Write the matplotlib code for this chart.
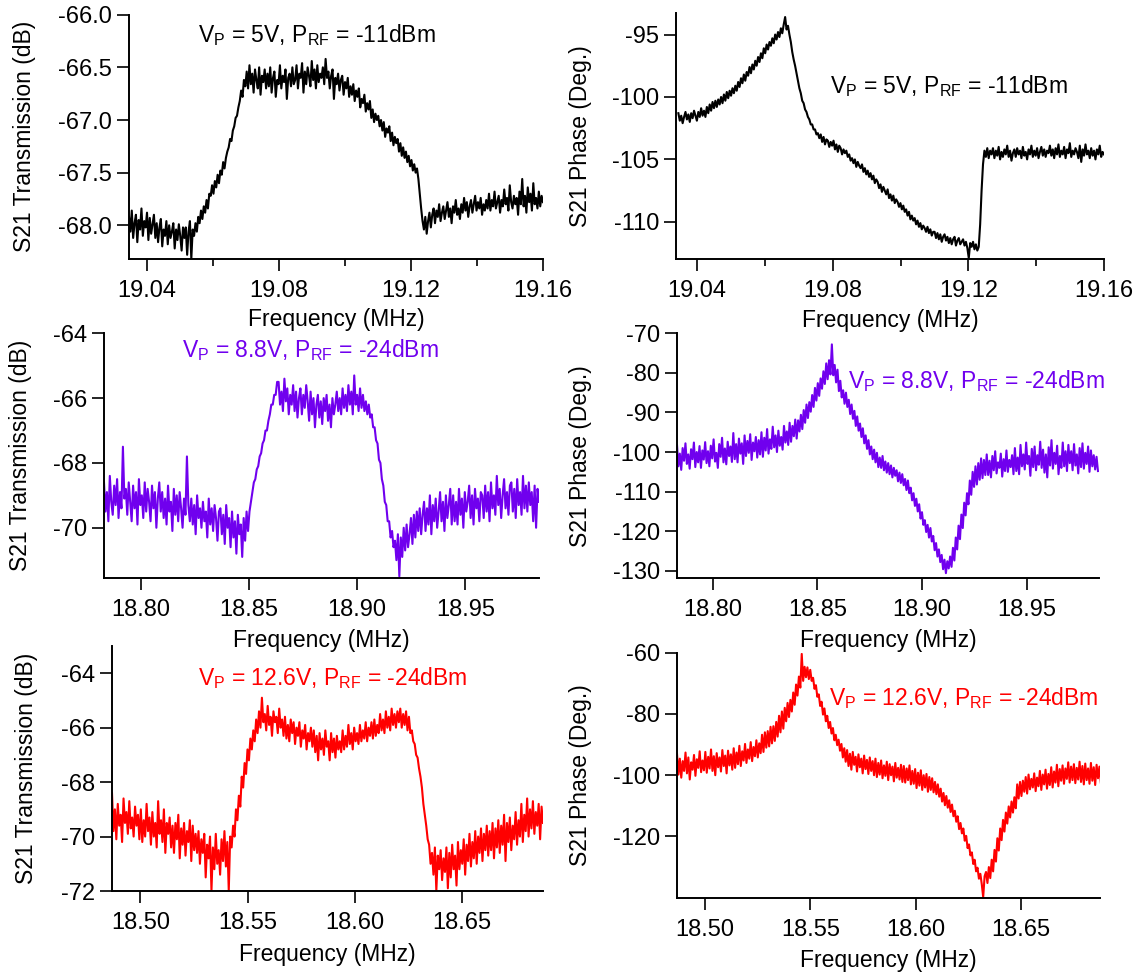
import numpy as np
import matplotlib
matplotlib.use('Agg')
import matplotlib.pyplot as plt
from matplotlib.ticker import FixedLocator, FormatStrFormatter

plt.rcParams['font.family'] = ['Liberation Sans', 'DejaVu Sans']
plt.rcParams['mathtext.fontset'] = 'custom'
plt.rcParams['mathtext.rm'] = 'Liberation Sans'
plt.rcParams['axes.unicode_minus'] = False

# frequency sweeps (MHz): start, stop
sweep_5v = (19.0345, 19.16)
sweep_88v = (18.783, 18.984)
sweep_126v = (18.4867, 18.688)

# S21 magnitude (dB) / phase (deg), one value per sweep point
mag_5v = [
    -67.92, -68.06, -67.86, -68.12, -67.98, -67.90, -68.16, -67.95, -68.04, -67.84,
    -68.10, -67.96, -68.02, -67.88, -68.14, -67.93, -68.08, -67.99, -67.90, -68.12,
    -67.98, -68.16, -68.02, -67.94, -68.20, -68.04, -68.10, -67.96, -68.18, -68.00,
    -68.12, -68.06, -67.98, -68.22, -68.04, -68.14, -67.99, -68.10, -68.24, -68.02,
    -68.12, -68.02, -68.28, -68.06, -67.96, -68.32, -68.04, -68.10, -67.98, -68.06,
    -67.92, -67.98, -67.86, -67.94, -67.82, -67.88, -67.76, -67.84, -67.70, -67.72,
    -67.62, -67.70, -67.58, -67.64, -67.52, -67.60, -67.48, -67.52, -67.40, -67.46,
    -67.36, -67.30, -67.26, -67.18, -67.20, -67.10, -67.06, -66.98, -66.96, -66.88,
    -66.82, -66.72, -66.78, -66.62, -66.68, -66.54, -66.70, -66.48, -66.66, -66.56,
    -66.74, -66.52, -66.62, -66.70, -66.50, -66.76, -66.58, -66.64, -66.52, -66.70,
    -66.56, -66.68, -66.50, -66.74, -66.60, -66.54, -66.78, -66.62, -66.66, -66.48,
    -66.70, -66.58, -66.64, -66.52, -66.80, -66.60, -66.56, -66.68, -66.50, -66.66,
    -66.62, -66.48, -66.70, -66.56, -66.60, -66.46, -66.74, -66.54, -66.66, -66.50,
    -66.58, -66.68, -66.44, -66.62, -66.52, -66.70, -66.48, -66.64, -66.56, -66.60,
    -66.50, -66.66, -66.42, -66.60, -66.54, -66.70, -66.58, -66.52, -66.80, -66.60,
    -66.66, -66.56, -66.72, -66.62, -66.58, -66.76, -66.64, -66.70, -66.60, -66.78,
    -66.68, -66.76, -66.66, -66.82, -66.72, -66.78, -66.70, -66.88, -66.80, -66.84,
    -66.76, -66.92, -66.84, -66.90, -66.82, -66.98, -66.90, -67.02, -66.94, -67.00,
    -66.96, -67.06, -67.00, -67.10, -67.02, -67.16, -67.08, -67.12, -67.06, -67.20,
    -67.12, -67.24, -67.16, -67.22, -67.18, -67.30, -67.22, -67.34, -67.26, -67.36,
    -67.30, -67.40, -67.34, -67.44, -67.38, -67.48, -67.42, -67.50, -67.46, -67.56,
    -67.70, -67.84, -67.96, -68.04, -67.92, -68.08, -67.96, -67.88, -68.02, -67.90,
    -67.84, -67.98, -67.86, -67.92, -67.80, -67.96, -67.88, -67.82, -67.94, -67.86,
    -67.78, -67.92, -67.84, -67.98, -67.82, -67.88, -67.76, -67.90, -67.84, -67.94,
    -67.80, -67.88, -67.74, -67.86, -67.78, -67.92, -67.82, -67.76, -67.88, -67.80,
    -67.72, -67.86, -67.78, -67.84, -67.74, -67.90, -67.80, -67.86, -67.76, -67.84,
    -67.70, -67.86, -67.76, -67.82, -67.68, -67.84, -67.78, -67.72, -67.88, -67.76,
    -67.82, -67.66, -67.80, -67.74, -67.86, -67.62, -67.78, -67.84, -67.72, -67.80,
    -67.74, -67.90, -67.68, -67.80, -67.56, -67.82, -67.72, -67.88, -67.64, -67.78,
    -67.70, -67.86, -67.60, -67.80, -67.74, -67.84, -67.68, -67.82, -67.72, -67.78,
]
phase_5v = [
    -101.3, -101.9, -101.5, -102.1, -101.6, -101.2, -101.8, -101.4, -102.0, -101.3,
    -101.7, -101.1, -101.5, -101.9, -101.2, -101.6, -100.9, -101.5, -101.1, -101.6,
    -100.8, -101.3, -100.6, -101.1, -100.4, -100.9, -100.3, -100.8, -100.2, -100.6,
    -100.0, -100.5, -99.8, -100.3, -99.6, -100.1, -99.5, -99.9, -99.3, -99.7,
    -99.1, -99.5, -98.8, -99.2, -98.5, -98.9, -98.2, -98.7, -98.0, -98.3,
    -97.6, -98.1, -97.4, -97.8, -97.1, -97.5, -96.8, -97.2, -96.5, -96.9,
    -96.1, -96.5, -95.8, -96.2, -95.6, -95.9, -95.3, -95.7, -95.0, -95.4,
    -94.8, -95.2, -94.5, -94.9, -94.2, -93.6, -94.6, -94.3, -95.0, -95.6,
    -96.4, -97.0, -97.5, -98.1, -98.7, -99.3, -99.7, -100.3, -100.5, -101.0,
    -101.2, -101.6, -101.8, -102.2, -102.2, -102.6, -102.6, -103.0, -102.9, -103.3,
    -103.0, -103.6, -103.2, -103.8, -103.4, -103.5, -104.0, -103.6, -103.9, -103.5,
    -104.2, -103.8, -104.4, -103.9, -104.1, -104.6, -104.2, -104.5, -104.3, -104.8,
    -104.6, -105.1, -104.9, -105.3, -105.0, -105.6, -105.2, -105.5, -105.7, -105.4,
    -106.0, -105.7, -106.2, -105.9, -106.4, -106.1, -106.6, -106.3, -106.9, -106.6,
    -106.8, -107.3, -107.0, -107.6, -107.2, -107.5, -107.8, -107.4, -108.1, -107.8,
    -108.3, -107.9, -108.5, -108.2, -108.4, -108.8, -108.5, -109.0, -108.7, -109.2,
    -109.0, -109.5, -109.2, -109.8, -109.5, -109.9, -109.7, -110.2, -109.9, -110.4,
    -110.1, -110.6, -110.3, -110.5, -110.8, -110.4, -110.9, -110.6, -111.1, -110.8,
    -110.8, -111.3, -110.9, -111.4, -111.0, -111.6, -111.2, -111.0, -111.5, -111.2,
    -111.7, -111.3, -111.8, -111.4, -111.2, -111.9, -111.5, -111.3, -111.8, -111.6,
    -111.4, -111.9, -111.6, -112.1, -112.9, -111.7, -112.0, -111.6, -112.2, -111.8,
    -112.3, -112.0, -110.2, -107.5, -105.4, -104.3, -104.8, -104.1, -104.9, -104.3,
    -104.6, -104.1, -104.9, -104.3, -104.7, -104.0, -105.0, -104.4, -104.8, -104.2,
    -104.6, -103.9, -104.8, -104.3, -105.1, -104.5, -104.2, -104.8, -104.1, -104.6,
    -104.3, -104.9, -104.0, -104.7, -104.4, -105.0, -104.2, -104.6, -103.9, -104.8,
    -104.3, -104.7, -104.1, -104.9, -104.4, -104.0, -104.7, -104.2, -104.8, -104.3,
    -104.5, -103.9, -104.7, -104.2, -104.9, -104.1, -104.6, -103.8, -104.8, -104.3,
    -104.6, -104.0, -104.9, -104.2, -104.5, -103.7, -104.8, -104.3, -104.6, -104.1,
    -104.4, -104.9, -103.9, -105.2, -104.2, -104.7, -103.8, -104.6, -104.3, -104.9,
    -104.1, -104.7, -104.3, -105.0, -104.2, -104.6, -103.9, -104.8, -104.4, -104.6,
]
mag_88v = [
    -68.6, -69.5, -68.9, -69.8, -68.4, -69.2, -69.6, -68.7, -69.3, -68.5,
    -69.7, -68.9, -69.4, -67.5, -69.1, -68.8, -69.6, -68.6, -69.2, -69.8,
    -68.7, -69.4, -68.9, -69.9, -68.5, -69.3, -69.0, -69.7, -68.6, -69.5,
    -68.8, -69.2, -69.8, -68.7, -69.4, -68.9, -70.0, -69.1, -68.6, -69.5,
    -68.9, -69.7, -69.1, -69.9, -68.7, -69.5, -69.2, -70.1, -68.8, -69.6,
    -69.0, -69.8, -68.9, -69.4, -70.0, -69.1, -69.6, -67.8, -69.3, -69.8,
    -69.1, -69.9, -69.3, -70.2, -69.0, -69.7, -69.4, -70.0, -69.2, -69.8,
    -69.5, -70.3, -69.1, -69.9, -69.4, -70.1, -69.3, -69.7, -70.4, -69.5,
    -69.4, -70.2, -69.6, -70.5, -69.3, -70.0, -69.7, -70.6, -69.5, -70.3,
    -69.8, -70.8, -69.6, -70.2, -69.9, -70.9, -69.7, -70.4, -69.5, -70.1,
    -69.5, -69.2, -68.9, -68.6, -68.5, -68.2, -68.1, -67.8, -67.7, -67.4,
    -67.3, -67.0, -67.0, -66.7, -66.5, -66.2, -66.2, -65.9, -65.9, -65.5,
    -65.5, -66.2, -65.8, -66.4, -65.4, -66.1, -65.7, -66.5, -65.9, -66.2,
    -65.6, -66.4, -65.8, -66.6, -66.0, -65.7, -66.5, -65.9, -66.3, -65.6,
    -66.1, -66.7, -65.8, -66.5, -66.0, -66.9, -66.2, -65.9, -66.6, -66.1,
    -66.8, -66.0, -66.4, -65.9, -66.7, -66.2, -66.9, -66.0, -66.5, -66.2,
    -65.8, -66.4, -66.0, -66.5, -65.7, -66.3, -65.9, -66.4, -65.6, -66.2,
    -65.8, -66.5, -65.3, -66.2, -65.9, -66.4, -65.7, -66.3, -65.9, -66.4,
    -66.1, -66.5, -66.2, -66.6, -66.5, -66.9, -66.9, -67.3, -67.4, -67.9,
    -68.0, -68.5, -68.7, -69.2, -69.3, -69.8, -69.8, -70.3, -70.1, -70.6,
    -70.4, -71.0, -70.2, -71.5, -70.3, -70.9, -70.0, -70.7, -69.9, -70.6,
    -70.2, -69.7, -70.5, -69.6, -70.3, -69.5, -70.1, -69.4, -70.2, -69.6,
    -69.2, -70.1, -69.4, -69.9, -69.0, -70.2, -69.3, -69.8, -69.1, -70.0,
    -69.5, -68.9, -69.8, -69.2, -70.1, -69.0, -69.7, -69.3, -68.8, -69.9,
    -69.0, -69.8, -69.2, -69.9, -68.8, -69.6, -69.1, -70.0, -68.9, -69.5,
    -69.2, -68.7, -69.7, -69.0, -69.9, -68.8, -69.4, -69.1, -69.8, -68.9,
    -69.0, -69.7, -68.7, -69.5, -68.9, -69.8, -68.6, -69.4, -69.0, -69.6,
    -68.4, -69.3, -68.8, -69.7, -69.0, -68.5, -69.4, -68.9, -69.6, -68.7,
    -68.6, -69.5, -68.8, -69.7, -68.5, -69.3, -68.9, -69.6, -68.4, -69.4,
    -68.7, -69.5, -68.6, -69.3, -68.9, -69.8, -68.7, -70.0, -68.8, -69.2,
]
phase_88v = [
    -98.2, -103.6, -100.4, -104.5, -99.0, -102.2, -97.8, -103.0, -100.6, -104.2,
    -99.3, -101.8, -97.6, -103.8, -100.0, -102.6, -98.5, -104.0, -99.6, -101.9,
    -97.5, -102.8, -99.8, -103.6, -98.4, -101.6, -96.8, -102.4, -100.2, -104.0,
    -98.0, -101.2, -96.4, -102.6, -99.1, -103.1, -97.4, -101.0, -98.6, -102.5,
    -95.2, -101.8, -98.0, -102.6, -96.6, -100.4, -97.8, -103.0, -95.8, -101.0,
    -97.2, -100.2, -95.5, -102.0, -97.6, -99.8, -96.2, -101.4, -97.0, -100.6,
    -95.0, -101.2, -96.4, -99.6, -94.2, -100.4, -96.8, -99.2, -93.6, -98.8,
    -95.8, -100.0, -94.6, -98.4, -96.2, -99.4, -93.4, -97.6, -94.8, -98.2,
    -92.6, -97.4, -93.4, -96.0, -91.8, -96.6, -92.0, -94.8, -90.6, -94.2,
    -89.4, -92.6, -88.0, -91.4, -87.4, -89.8, -85.6, -88.6, -83.8, -87.0,
    -82.6, -85.8, -81.4, -84.0, -79.6, -82.8, -77.6, -81.6, -76.8, -80.4,
    -72.8, -80.6, -78.0, -82.4, -79.2, -84.6, -82.0, -86.2, -84.4, -87.8,
    -85.0, -88.6, -86.8, -90.4, -88.0, -91.6, -89.6, -93.4, -91.0, -94.6,
    -92.8, -96.2, -94.0, -97.8, -95.8, -99.2, -97.0, -100.6, -98.6, -101.8,
    -99.4, -102.6, -100.2, -103.8, -101.4, -104.0, -101.0, -104.6, -102.4, -105.2,
    -102.8, -105.6, -103.4, -106.4, -104.0, -106.0, -104.6, -107.4, -105.2, -107.8,
    -105.6, -108.4, -106.8, -109.6, -107.2, -110.4, -109.0, -112.2, -110.4, -113.6,
    -111.8, -115.0, -113.2, -116.8, -115.2, -118.4, -117.2, -120.2, -118.4, -121.6,
    -119.2, -122.6, -121.2, -124.8, -123.0, -126.4, -124.6, -127.8, -126.0, -129.6,
    -127.2, -130.6, -127.6, -129.4, -126.4, -129.0, -124.2, -127.4, -121.6, -124.6,
    -118.6, -122.0, -115.8, -119.2, -112.8, -116.0, -110.4, -113.2, -107.2, -110.8,
    -105.0, -108.8, -103.6, -108.2, -102.8, -107.0, -101.6, -106.6, -102.0, -105.8,
    -100.6, -105.8, -102.2, -106.4, -101.0, -104.6, -99.8, -105.4, -102.6, -104.0,
    -100.4, -106.2, -101.8, -104.8, -99.6, -105.0, -102.0, -103.8, -100.8, -105.6,
    -99.0, -104.8, -101.4, -105.6, -98.2, -103.6, -100.6, -104.4, -97.6, -103.0,
    -101.0, -106.0, -99.2, -103.8, -98.6, -104.6, -100.8, -103.2, -97.4, -104.0,
    -99.4, -105.2, -100.6, -106.4, -98.8, -103.4, -97.0, -104.2, -100.2, -103.0,
    -98.4, -105.6, -101.0, -104.0, -97.6, -103.6, -99.8, -104.8, -98.2, -102.8,
    -99.8, -104.6, -98.0, -103.4, -100.6, -105.4, -99.0, -103.8, -97.8, -104.2,
    -100.2, -103.0, -98.6, -105.0, -99.6, -103.6, -100.8, -104.4, -101.2, -104.8,
]
mag_126v = [
    -68.4, -69.8, -69.0, -70.1, -68.8, -69.6, -69.2, -70.2, -68.6, -69.5,
    -69.1, -69.9, -68.7, -69.7, -69.3, -70.0, -68.9, -69.6, -69.2, -70.1,
    -69.0, -70.2, -69.4, -70.0, -68.8, -69.8, -69.3, -70.3, -69.1, -70.0,
    -69.5, -70.4, -68.7, -69.9, -69.4, -70.2, -69.0, -70.6, -69.5, -69.9,
    -69.3, -70.4, -69.6, -70.6, -69.5, -70.1, -69.2, -70.8, -69.7, -70.3,
    -69.5, -70.7, -69.8, -70.2, -69.4, -70.9, -69.6, -70.5, -69.9, -70.6,
    -69.8, -71.0, -70.1, -70.6, -69.9, -71.5, -70.3, -70.8, -70.0, -72.0,
    -70.4, -71.2, -69.9, -71.0, -70.5, -71.4, -70.1, -70.9, -69.8, -71.1,
    -70.2, -72.0, -70.0, -70.4, -69.6, -70.0, -69.0, -69.4, -68.5, -68.9,
    -67.8, -68.2, -67.3, -67.7, -66.8, -67.2, -66.4, -66.8, -66.1, -66.5,
    -65.7, -66.2, -65.4, -66.0, -64.9, -65.8, -65.5, -66.1, -65.2, -65.9,
    -65.6, -66.3, -65.4, -65.8, -65.6, -66.2, -65.3, -66.0, -65.7, -66.3,
    -65.6, -66.4, -65.9, -66.5, -65.7, -66.2, -65.8, -66.6, -66.0, -66.3,
    -65.8, -66.7, -66.1, -66.4, -65.9, -66.8, -66.2, -66.5, -66.0, -66.7,
    -66.1, -66.9, -66.3, -67.2, -66.2, -66.8, -66.4, -67.0, -66.1, -66.7,
    -66.5, -67.2, -66.2, -66.9, -66.4, -67.1, -66.3, -66.8, -66.5, -66.9,
    -66.1, -66.8, -66.3, -66.7, -65.9, -66.6, -66.2, -66.8, -66.0, -66.5,
    -66.2, -66.6, -65.9, -66.5, -66.1, -66.4, -65.8, -66.5, -66.0, -66.3,
    -65.8, -66.4, -65.7, -66.3, -65.9, -66.2, -65.5, -66.1, -65.7, -66.2,
    -65.4, -66.0, -65.6, -66.1, -65.3, -65.9, -65.5, -66.0, -65.4, -65.8,
    -65.3, -66.0, -65.5, -65.9, -65.4, -66.1, -65.6, -66.2, -66.1, -66.5,
    -66.6, -67.0, -67.1, -67.5, -67.8, -68.2, -68.8, -69.2, -69.6, -70.1,
    -70.3, -71.0, -70.6, -71.4, -70.4, -72.0, -70.7, -71.2, -70.5, -71.6,
    -70.8, -71.3, -70.4, -71.9, -70.6, -71.5, -70.3, -71.2, -70.7, -71.8,
    -70.2, -71.2, -70.5, -71.0, -70.1, -71.4, -70.3, -70.9, -69.9, -71.1,
    -70.2, -70.8, -69.8, -71.0, -70.0, -70.6, -69.7, -70.9, -69.9, -70.5,
    -69.6, -70.7, -69.8, -70.5, -69.5, -70.8, -69.7, -70.4, -69.4, -70.6,
    -69.6, -70.3, -69.2, -70.9, -69.5, -70.2, -69.3, -70.5, -69.6, -70.1,
    -69.1, -70.3, -69.4, -70.0, -68.8, -70.2, -69.2, -69.8, -68.6, -70.0,
    -69.0, -69.7, -68.7, -69.9, -69.1, -69.6, -68.8, -70.1, -68.9, -69.5,
]
phase_126v = [
    -93.0, -99.8, -94.6, -100.8, -95.4, -98.6, -92.6, -99.4, -94.2, -101.4,
    -95.8, -98.2, -93.4, -100.2, -94.8, -97.6, -92.2, -99.0, -95.2, -98.4,
    -92.4, -99.2, -94.0, -97.8, -91.6, -98.6, -93.8, -100.0, -92.8, -97.4,
    -94.2, -98.8, -91.8, -97.0, -93.6, -99.4, -92.0, -96.8, -93.2, -98.2,
    -91.2, -97.6, -92.6, -96.4, -90.4, -97.0, -92.2, -95.2, -89.8, -96.0,
    -91.6, -94.6, -89.2, -95.4, -90.8, -93.8, -88.6, -94.2, -89.6, -92.8,
    -86.8, -92.4, -86.0, -91.0, -85.6, -90.6, -84.2, -89.6, -84.0, -88.8,
    -82.6, -87.4, -80.6, -86.0, -79.2, -84.8, -78.0, -82.4, -76.4, -81.0,
    -75.4, -79.2, -73.0, -77.0, -70.4, -74.0, -67.8, -71.4, -60.4, -69.2,
    -64.6, -68.0, -64.8, -68.6, -65.6, -69.2, -68.2, -71.8, -70.6, -74.4,
    -73.6, -77.4, -76.0, -80.2, -78.2, -82.4, -80.6, -84.6, -82.6, -86.4,
    -84.6, -88.6, -86.8, -90.2, -88.4, -92.0, -89.8, -94.2, -91.2, -95.6,
    -91.8, -97.0, -93.0, -98.2, -92.4, -96.6, -94.0, -98.8, -93.2, -97.4,
    -94.6, -99.4, -93.6, -98.0, -95.0, -99.6, -94.2, -98.6, -95.4, -100.0,
    -94.6, -100.6, -96.0, -99.8, -95.2, -101.0, -96.8, -100.2, -95.6, -101.6,
    -96.4, -100.0, -97.2, -102.0, -96.0, -100.8, -97.6, -101.4, -96.6, -102.2,
    -97.0, -102.4, -97.8, -101.6, -96.8, -103.0, -98.6, -102.8, -98.0, -104.2,
    -99.2, -103.4, -98.4, -104.8, -100.0, -104.0, -99.6, -105.4, -100.6, -104.8,
    -101.0, -105.6, -102.2, -106.2, -103.0, -107.0, -104.4, -108.6, -105.8, -109.8,
    -106.8, -110.6, -108.2, -112.0, -109.6, -113.4, -111.6, -115.2, -113.4, -117.6,
    -115.6, -119.0, -117.4, -121.4, -119.8, -123.8, -122.6, -126.2, -125.2, -129.0,
    -127.6, -131.4, -130.2, -133.8, -132.2, -135.6, -139.8, -133.0, -131.6, -135.2,
    -130.0, -133.6, -127.6, -131.4, -124.4, -128.2, -120.6, -124.6, -117.4, -121.2,
    -114.6, -118.4, -112.2, -115.8, -110.2, -113.8, -108.6, -112.2, -107.2, -110.8,
    -103.0, -107.6, -102.2, -106.8, -101.8, -105.4, -100.6, -106.0, -99.8, -104.6,
    -101.2, -104.0, -99.4, -105.2, -100.8, -103.6, -98.6, -104.8, -99.8, -103.0,
    -98.2, -104.4, -99.6, -103.2, -97.4, -104.0, -98.8, -102.4, -96.6, -103.6,
    -98.0, -101.8, -96.8, -102.8, -97.8, -101.2, -95.8, -102.4, -97.2, -101.6,
    -96.4, -102.6, -97.6, -101.4, -95.6, -102.2, -97.0, -103.0, -96.2, -101.6,
    -97.8, -102.8, -96.0, -101.8, -97.4, -103.2, -96.6, -101.0, -97.2, -102.4,
]

labels_5v = r'V$_\mathrm{P}$ = 5V, P$_\mathrm{RF}$ = -11dBm'
labels_88v = r'V$_\mathrm{P}$ = 8.8V, P$_\mathrm{RF}$ = -24dBm'
labels_126v = r'V$_\mathrm{P}$ = 12.6V, P$_\mathrm{RF}$ = -24dBm'

purple = '#7000EE'
red = '#FF0000'

W, H = 1144, 976
fig = plt.figure(figsize=(W / 100, H / 100), dpi=100)


def add_panel(x0, x1, yt, yb):
    ax = fig.add_axes([x0 / W, 1 - yb / H, (x1 - x0) / W, (yb - yt) / H])
    # no background so the panel below doesn't hide the x label above it
    ax.patch.set_visible(False)
    return ax


def style(ax, xlim, ylim, xticks, yticks, yfmt, xminor, ylabel, ylab_x, xlab_y, box):
    x0, x1, yt, yb = box
    ax.set_xlim(*xlim)
    ax.set_ylim(*ylim)
    for s in ['top', 'right']:
        ax.spines[s].set_visible(False)
    for s in ['left', 'bottom']:
        ax.spines[s].set_linewidth(1.4)
    ax.xaxis.set_major_locator(FixedLocator(xticks))
    ax.xaxis.set_major_formatter(FormatStrFormatter('%.2f'))
    ax.xaxis.set_minor_locator(FixedLocator(xminor if xminor else []))
    ax.yaxis.set_major_locator(FixedLocator(yticks))
    ax.yaxis.set_major_formatter(FormatStrFormatter(yfmt))
    ax.yaxis.set_minor_locator(FixedLocator([]))
    ax.tick_params(axis='both', which='major', direction='out', length=8.6, width=1.2, labelsize=17)
    ax.tick_params(axis='x', which='major', pad=6.5)
    ax.tick_params(axis='y', which='major', pad=3.5)
    ax.tick_params(axis='x', which='minor', direction='out', length=5, width=1.2)
    ax.set_ylabel(ylabel, fontsize=16.5)
    ax.set_xlabel('Frequency (MHz)', fontsize=16.5)
    ax.yaxis.label.set_verticalalignment('center')
    ax.xaxis.label.set_verticalalignment('center')
    ax.yaxis.set_label_coords((ylab_x - x0) / (x1 - x0), 0.5)
    ax.xaxis.set_label_coords(0.5, (yb - xlab_y) / (yb - yt))


def trace(ax, sweep, values, color):
    f = np.linspace(sweep[0], sweep[1], len(values))
    ax.plot(f, values, color=color, lw=1.5)


def note(text, x, y, color):
    fig.text(x / W, 1 - y / H, text, fontsize=16.5, color=color, ha='left', va='baseline')


# row 1: 5 V bias
b = (129, 543, 14.7, 259)
ax = add_panel(*b)
trace(ax, sweep_5v, mag_5v, 'black')
style(ax, (19.0345, 19.16), (-68.32, -66.0), [19.04, 19.08, 19.12, 19.16],
      [-68.0, -67.5, -67.0, -66.5, -66.0], '%.1f', [19.06, 19.10, 19.14],
      'S21 Transmission (dB)', 25, 320, b)
note(labels_5v, 198, 42, 'black')

b = (676, 1104, 13.3, 259.3)
ax = add_panel(*b)
trace(ax, sweep_5v, phase_5v, 'black')
style(ax, (19.0338, 19.16), (-113.0, -93.3), [19.04, 19.08, 19.12, 19.16],
      [-110, -105, -100, -95], '%d', [19.06, 19.10, 19.14],
      'S21 Phase (Deg.)', 580, 320, b)
note(labels_5v, 830, 93, 'black')

# row 2: 8.8 V bias
b = (104, 539, 333.3, 578.3)
ax = add_panel(*b)
trace(ax, sweep_88v, mag_88v, purple)
style(ax, (18.783, 18.984), (-71.56, -64.0), [18.80, 18.85, 18.90, 18.95],
      [-70, -68, -66, -64], '%d', None,
      'S21 Transmission (dB)', 21, 640, b)
note(labels_88v, 182, 357, purple)

b = (677, 1099, 333.3, 578.3)
ax = add_panel(*b)
trace(ax, sweep_88v, phase_88v, purple)
style(ax, (18.783, 18.9845), (-131.9, -70.0), [18.80, 18.85, 18.90, 18.95],
      [-130, -120, -110, -100, -90, -80, -70], '%d', None,
      'S21 Phase (Deg.)', 580, 640, b)
note(labels_88v, 848, 388, purple)

# row 3: 12.6 V bias
b = (112, 543, 646, 891)
ax = add_panel(*b)
trace(ax, sweep_126v, mag_126v, red)
style(ax, (18.4867, 18.688), (-72.0, -63.0), [18.50, 18.55, 18.60, 18.65],
      [-72, -70, -68, -66, -64], '%d', None,
      'S21 Transmission (dB)', 27, 954, b)
note(labels_126v, 198, 685, red)

b = (677, 1100, 652.7, 897.7)
ax = add_panel(*b)
trace(ax, sweep_126v, phase_126v, red)
style(ax, (18.4867, 18.6876), (-140.0, -60.0), [18.50, 18.55, 18.60, 18.65],
      [-120, -100, -80, -60], '%d', None,
      'S21 Phase (Deg.)', 580, 961, b)
note(labels_126v, 829, 705, red)

fig.savefig('out.png', dpi=100)
